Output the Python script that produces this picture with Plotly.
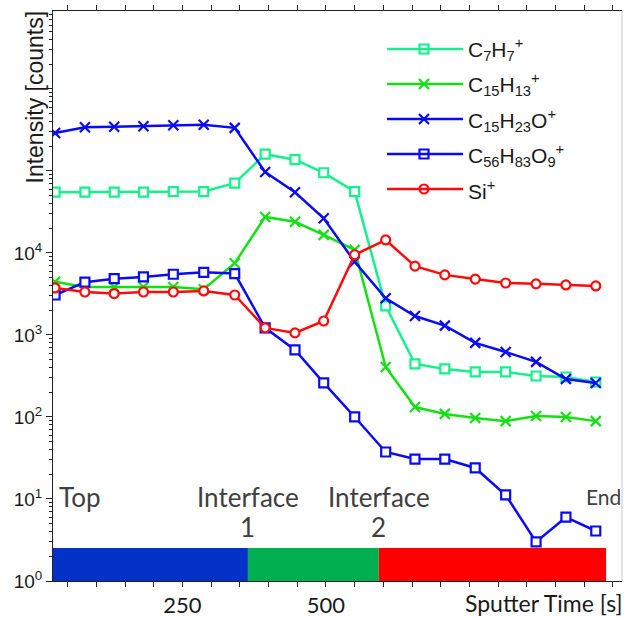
import plotly.graph_objects as go

# ---------------- data ----------------
time_s = [28, 80, 131, 182, 234, 287, 341, 394, 446, 496, 550, 604, 655, 707, 760, 813, 866, 918, 970]
c7h7 = [5.5e4, 5.5e4, 5.5e4, 5.5e4, 5.6e4, 5.6e4, 7.1e4, 1.6e5, 1.37e5, 9.5e4, 5.6e4, 2.26e3, 443, 385, 354, 354, 316, 307, 267]
c15h13 = [4.45e3, 3.85e3, 3.85e3, 3.85e3, 3.85e3, 3.6e3, 7.5e3, 2.75e4, 2.4e4, 1.66e4, 1.09e4, 407, 132, 109, 97, 89, 103, 100, 89]
c15h23o = [2.9e5, 3.4e5, 3.45e5, 3.5e5, 3.6e5, 3.65e5, 3.35e5, 9.7e4, 5.5e4, 2.65e4, 7.8e3, 2.8e3, 1.7e3, 1.3e3, 800, 620, 470, 290, 260]
c56h83o9 = [3.07e3, 4.4e3, 4.85e3, 5.1e3, 5.5e3, 5.8e3, 5.6e3, 1.22e3, 656, 260, 100, 37.4, 30.7, 30.7, 23.9, 11.2, 3.0, 6.0, 4.07]
si = [3.74e3, 3.34e3, 3.2e3, 3.34e3, 3.34e3, 3.44e3, 3.07e3, 1.22e3, 1.06e3, 1.48e3, 9.5e3, 1.44e4, 6.9e3, 5.4e3, 4.8e3, 4.3e3, 4.2e3, 4.07e3, 3.96e3]

series_names = ["C<sub>7</sub>H<sub>7</sub><sup>+</sup>",
                "C<sub>15</sub>H<sub>13</sub><sup>+</sup>",
                "C<sub>15</sub>H<sub>23</sub>O<sup>+</sup>",
                "C<sub>56</sub>H<sub>83</sub>O<sub>9</sub><sup>+</sup>",
                "Si<sup>+</sup>"]
series_values = [c7h7, c15h13, c15h23o, c56h83o9, si]

# layer regions (sputter time boundaries)
region_edges = [24.4, 364, 592, 988]
x_tick_vals = [250, 500]
x_tick_text = ["250", "500"]
y_tick_vals = [1, 10, 100, 1000, 10000, 1e5, 1e6]
y_tick_text = ["10<sup>0</sup>", "10<sup>1</sup>", "10<sup>2</sup>", "10<sup>3</sup>", "10<sup>4</sup>", "", ""]

# ---------------- styles ----------------
colors = ["#14F08A", "#14E014", "#0A0AF5", "#0A0AF5", "#FF0A0A"]
symbols = ["square", "x-thin", "x-thin", "square", "circle"]
sizes = [9, 10, 10, 9, 9]
region_colors = ["#0432C8", "#00B050", "#FF0000"]

W, H = 625, 617
L, R, T, B = 53, 3, 11, 36
PW, PH = W - L - R, H - T - B


def px2paper(px, py):
    return (px - L) / PW, (H - B - py) / PH


def make_marker(sym, sz, col):
    if sym == "x-thin":
        return dict(symbol=sym, size=sz, color=col, line=dict(color=col, width=2.2))
    return dict(symbol=sym, size=sz, color="white", line=dict(color=col, width=2.2))


fig = go.Figure()

for name, vals, col, sym, sz in zip(series_names, series_values, colors, symbols, sizes):
    fig.add_trace(go.Scatter(x=time_s, y=vals, mode="lines+markers", name=name,
                             line=dict(color=col, width=2.5), marker=make_marker(sym, sz, col),
                             showlegend=False))

shapes = []
# coloured layer bar
for i, col in enumerate(region_colors):
    shapes.append(dict(type="rect", xref="x", yref="paper",
                       x0=region_edges[i], x1=region_edges[i + 1],
                       y0=0, y1=33 / PH, fillcolor=col, line=dict(width=0), layer="below"))
# right border (light grey)
shapes.append(dict(type="line", xref="paper", yref="paper", x0=1, x1=1, y0=0, y1=1,
                   line=dict(color="#C8C8C8", width=1)))

annotations = []
# custom legend
leg_rows = [49, 84, 119, 154, 189]
lx0, lx1, lxm, ltx = 387, 463, 424, 466
for name, col, sym, sz, ry in zip(series_names, colors, symbols, sizes, leg_rows):
    a0, b0 = px2paper(lx0, ry)
    a1, _ = px2paper(lx1, ry)
    shapes.append(dict(type="line", xref="paper", yref="paper", x0=a0, x1=a1, y0=b0, y1=b0,
                       line=dict(color=col, width=2.5)))
    fig.add_trace(go.Scatter(x=[lxm], y=[ry], xaxis="x2", yaxis="y2", mode="markers",
                             marker=make_marker(sym, sz, col), showlegend=False, hoverinfo="skip"))
    tx, ty = px2paper(ltx, ry + 1)
    annotations.append(dict(xref="paper", yref="paper", x=tx, y=ty, xanchor="left", yanchor="middle",
                            text=name, showarrow=False,
                            font=dict(family="Liberation Sans, Arial", size=21, color="#1a1a1a")))

# region labels
lab_font = dict(family="Lato, Gill Sans, sans-serif", size=26, color="#404040")


def add_label(text, x, py, xanchor="center", font=lab_font):
    annotations.append(dict(xref="x", yref="paper", x=x, y=px2paper(0, py)[1], xanchor=xanchor,
                            yanchor="middle", text=text, showarrow=False, font=font))


add_label("Top", 32, 497, xanchor="left")
add_label("Interface", region_edges[1], 497)
add_label("1", region_edges[1], 527)
add_label("Interface", region_edges[2], 497)
add_label("2", region_edges[2], 527)
add_label("End", region_edges[3] - 5, 496,
          font=dict(family="Lato, Gill Sans, sans-serif", size=21, color="#404040"))

# axis titles
annotations.append(dict(xref="paper", yref="paper", x=px2paper(34, 0)[0], y=px2paper(0, 9)[1],
                        xanchor="center", yanchor="top", textangle=-90, text="Intensity [counts]",
                        showarrow=False, font=dict(family="Liberation Sans, Arial", size=23, color="#1a1a1a")))
annotations.append(dict(xref="paper", yref="paper", x=px2paper(624, 0)[0], y=px2paper(0, 603)[1],
                        xanchor="right", yanchor="middle", text="Sputter Time [s]", showarrow=False,
                        font=dict(family="Lato, Gill Sans, sans-serif", size=23, color="#1a1a1a")))

minor_y = [k * 10 ** d for d in range(0, 7) for k in range(2, 10)]

fig.update_layout(
    width=W, height=H,
    margin=dict(l=L, r=R, t=T, b=B, autoexpand=False),
    paper_bgcolor="white", plot_bgcolor="white",
    showlegend=False,
    shapes=shapes, annotations=annotations,
    xaxis=dict(range=[region_edges[0], 1015.7], showgrid=False, zeroline=False, automargin=False,
               showline=True, linecolor="#222", linewidth=1, mirror="ticks",
               ticks="outside", ticklen=5, tickcolor="#222",
               tickvals=x_tick_vals, ticktext=x_tick_text,
               tickfont=dict(family="Lato, Gill Sans, sans-serif", size=22, color="#1a1a1a"),
               minor=dict(dtick=50, tick0=0, ticks="outside", ticklen=5, tickcolor="#222")),
    yaxis=dict(type="log", range=[0, 6.95], showgrid=False, zeroline=False, automargin=False,
               showline=True, linecolor="#222", linewidth=1,
               ticks="outside", ticklen=6, tickcolor="#222",
               tickvals=y_tick_vals, ticktext=y_tick_text,
               tickfont=dict(family="Liberation Sans, Arial", size=19, color="#1a1a1a"),
               minor=dict(tickmode="array", tickvals=minor_y, ticks="outside", ticklen=3, tickcolor="#222")),
    xaxis2=dict(overlaying="x", range=[L, W - R], visible=False, fixedrange=True),
    yaxis2=dict(overlaying="y", range=[H - B, T], visible=False, fixedrange=True),
)

fig.write_html("out.html", config={"displayModeBar": False},
               post_script="document.body.style.margin='0px';document.body.style.overflow='hidden';")
